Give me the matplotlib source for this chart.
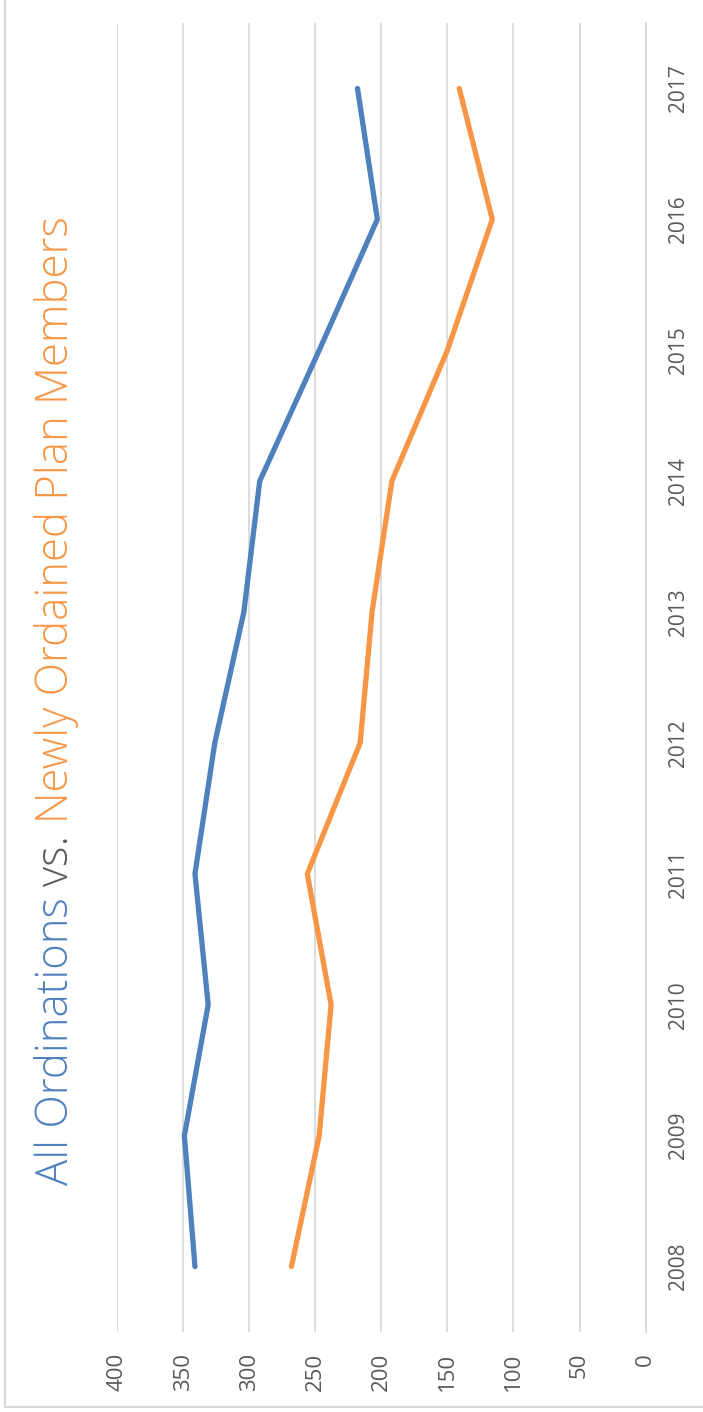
import matplotlib
matplotlib.use("Agg")
import matplotlib.pyplot as plt
from matplotlib.lines import Line2D

years = [2008, 2009, 2010, 2011, 2012, 2013, 2014, 2015, 2016, 2017]
all_ordinations = [341, 349, 331, 341, 326, 304, 292, 247, 203, 218]
newly_plan = [268, 247, 238, 256, 216, 207, 192, 150, 116, 141]
value_ticks = [0, 50, 100, 150, 200, 250, 300, 350, 400]

BLUE = "#4F81BD"
ORANGE = "#F79646"
GRID = "#D9D9D9"
TXT = "#595959"

plt.rcParams['font.family'] = ['Open Sans', 'DejaVu Sans']

W, H = 703, 1412
fig = plt.figure(figsize=(W / 100, H / 100), dpi=100)
ax = fig.add_axes([117 / W, (H - 1332) / H, (645.6 - 117) / W, (1332 - 23) / H])

ax.plot(all_ordinations, years, color=BLUE, lw=3.8, solid_capstyle='round', solid_joinstyle='round')
ax.plot(newly_plan, years, color=ORANGE, lw=3.8, solid_capstyle='round', solid_joinstyle='round')

ax.set_xlim(400, 0)
ax.set_ylim(2007.5, 2017.5)
ax.set_xticks(value_ticks)
ax.set_xticklabels([str(v) for v in value_ticks], rotation=90, color=TXT, fontsize=16)
ax.set_yticks(years)
ax.set_yticklabels([str(y) for y in years], rotation=90, color=TXT, fontsize=15, va='center')
ax.yaxis.tick_right()
ax.tick_params(axis='x', length=0, pad=15)
ax.tick_params(axis='y', length=0, pad=16)
for lab in ax.get_yticklabels():
    lab.set_ha('left')
    lab.set_va('center')
ax.grid(axis='x', color=GRID, lw=1.3)
ax.set_axisbelow(True)
for s in ['top', 'bottom', 'left']:
    ax.spines[s].set_visible(False)
ax.spines['right'].set_color(GRID)
ax.spines['right'].set_linewidth(1.3)

# outer border (left and bottom)
fig.add_artist(Line2D([5 / W, 5 / W], [(H - 1407) / H, 1], transform=fig.transFigure, color=GRID, lw=1.5))
fig.add_artist(Line2D([5 / W, 1], [(H - 1407) / H, (H - 1407) / H], transform=fig.transFigure, color=GRID, lw=1.5))

# multi-colour rotated title
parts = [("All Ordinations ", BLUE), ("vs. ", TXT), ("Newly Ordained Plan Members", ORANGE)]
renderer = fig.canvas.get_renderer()
y0 = (H - 1185) / H
x0 = 57 / W
for text, col in parts:
    t = fig.text(x0, y0, text, rotation=90, color=col, fontsize=31.5, fontweight='light',
                 ha='center', va='bottom')
    bb = t.get_window_extent(renderer=renderer)
    y0 = bb.y1 / H

fig.savefig("out.png", dpi=100)
